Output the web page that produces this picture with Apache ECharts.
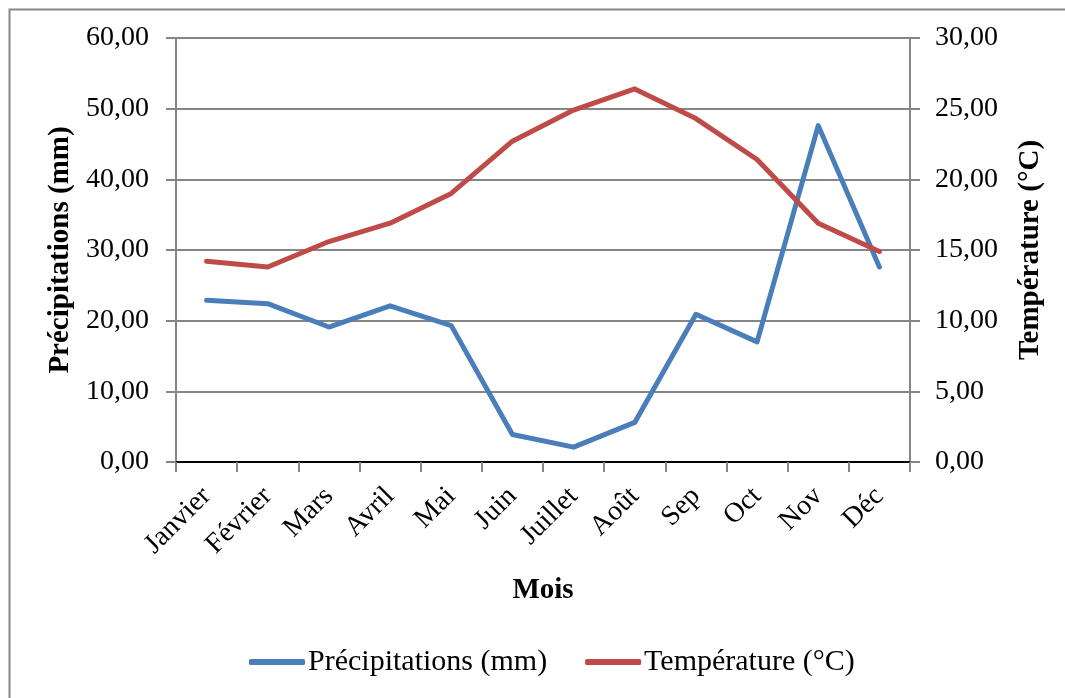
<!DOCTYPE html>
<html>
<head>
<meta charset="utf-8">
<title>Précipitations et température</title>
<script src="https://cdn.jsdelivr.net/npm/echarts@6/dist/echarts.min.js"></script>
<style>
  html, body { margin: 0; padding: 0; background: #fff; }
  #main { width: 1065px; height: 698px; }
</style>
</head>
<body>
<div id="main"></div>
<script>
// données
var mois = ['Janvier', 'Février', 'Mars', 'Avril', 'Mai', 'Juin', 'Juillet', 'Août', 'Sep', 'Oct', 'Nov', 'Déc'];
var precipitations = [22.9, 22.4, 19.1, 22.1, 19.3, 3.9, 2.1, 5.6, 20.9, 17.0, 47.6, 27.6];
var temperature = [14.2, 13.8, 15.6, 16.9, 19.0, 22.7, 24.9, 26.4, 24.3, 21.4, 16.9, 14.9];

var FONT = "'Liberation Serif', 'Times New Roman', serif";
var GRIS = '#868686';

// format "60,00"
var virgule = function (v) {
  return v.toFixed(2).replace('.', ',');
};

var myChart = echarts.init(document.getElementById('main'));

var option = {
  backgroundColor: '#fff',
  animation: false,
  textStyle: {fontFamily: FONT, color: '#000'},
  graphic: [{
    type: 'rect',
    shape: {x: 9.5, y: 9.5, width: 1070, height: 700},
    style: {fill: 'none', stroke: GRIS, lineWidth: 2},
    silent: true
  }],
  grid: {left: 176, right: 155, top: 38, bottom: 236},
  legend: {
    bottom: 16,
    left: 244,
    icon: 'roundRect',
    itemWidth: 56,
    itemHeight: 6,
    itemGap: 38,
    textStyle: {fontFamily: FONT, fontSize: 30, color: '#000', padding: [0, 0, 0, -2]},
    data: ['Précipitations (mm)', 'Température (°C)']
  },
  xAxis: [{
    type: 'category',
    data: mois,
    boundaryGap: true,
    name: 'Mois',
    nameLocation: 'middle',
    nameGap: 114,
    nameTextStyle: {fontFamily: FONT, fontSize: 29, fontWeight: 'bold', color: '#000', verticalAlign: 'top'},
    axisLine: {lineStyle: {color: GRIS, width: 2}},
    axisTick: {show: true, length: 10, lineStyle: {color: GRIS, width: 2}},
    axisLabel: {rotate: 45, margin: 30, fontFamily: FONT, fontSize: 28, color: '#000', interval: 0}
  }, {
    // trait noir du haut
    type: 'category',
    data: mois,
    position: 'top',
    axisLine: {lineStyle: {color: '#000', width: 2}},
    axisTick: {show: false},
    axisLabel: {show: false}
  }],
  yAxis: [{
    type: 'value',
    min: 0,
    max: 60,
    interval: 10,
    name: 'Précipitations (mm)',
    nameLocation: 'middle',
    nameRotate: 90,
    nameGap: 100,
    nameTextStyle: {fontFamily: FONT, fontSize: 29, fontWeight: 'bold', color: '#000'},
    axisLine: {show: true, lineStyle: {color: GRIS, width: 2}},
    axisTick: {show: true, length: 10, lineStyle: {color: GRIS, width: 2}},
    axisLabel: {margin: 27, fontFamily: FONT, fontSize: 28, color: '#000', formatter: virgule},
    splitLine: {show: true, lineStyle: {color: GRIS, width: 2}}
  }, {
    type: 'value',
    min: 0,
    max: 30,
    interval: 5,
    position: 'right',
    name: 'Température (°C)',
    nameLocation: 'middle',
    nameRotate: 90,
    nameGap: 106,
    nameTextStyle: {fontFamily: FONT, fontSize: 29, fontWeight: 'bold', color: '#000'},
    axisLine: {show: true, lineStyle: {color: GRIS, width: 2}},
    axisTick: {show: true, length: 10, lineStyle: {color: GRIS, width: 2}},
    axisLabel: {margin: 25, fontFamily: FONT, fontSize: 28, color: '#000', formatter: virgule},
    splitLine: {show: false}
  }],
  series: [{
    name: 'Précipitations (mm)',
    type: 'line',
    yAxisIndex: 0,
    data: precipitations,
    symbol: 'none',
    color: '#4A7EBB',
    lineStyle: {width: 5, color: '#4A7EBB', cap: 'round', join: 'round'}
  }, {
    name: 'Température (°C)',
    type: 'line',
    yAxisIndex: 1,
    data: temperature,
    symbol: 'none',
    color: '#BE4B48',
    lineStyle: {width: 5, color: '#BE4B48', cap: 'round', join: 'round'}
  }]
};

myChart.setOption(option);
window.addEventListener("resize", function () {
  myChart.resize();
});
</script>
</body>
</html>
